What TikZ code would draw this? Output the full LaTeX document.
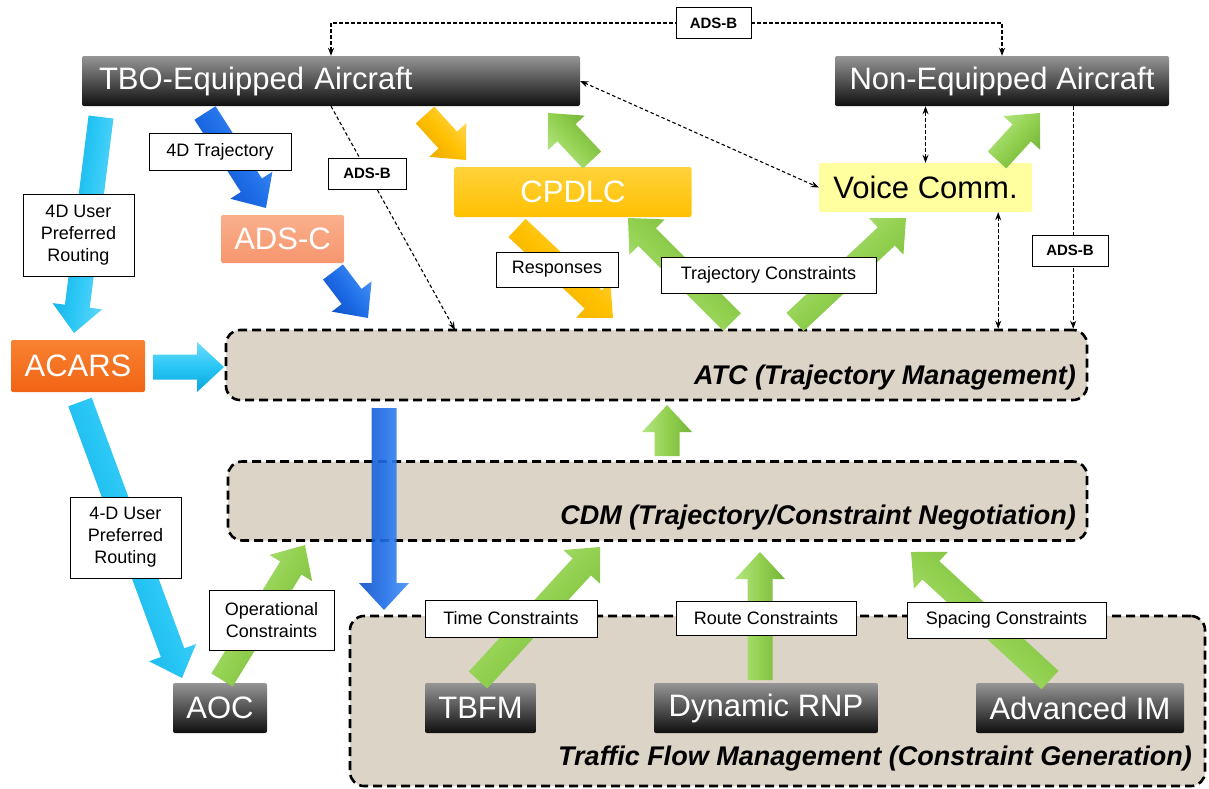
\documentclass[tikz,border=0pt]{standalone}
\usepackage{fontspec}
\setmainfont{Liberation Sans}
\usetikzlibrary{calc,arrows.meta}

\definecolor{beige}{RGB}{221,212,200}
\definecolor{darkT}{RGB}{150,150,150}
\definecolor{darkB}{RGB}{15,15,15}
\definecolor{cpdlcY}{RGB}{255,192,0}
\definecolor{cpdlcL}{RGB}{255,210,60}
\definecolor{voiceY}{RGB}{255,255,160}
\definecolor{adscO}{RGB}{246,150,110}
\definecolor{adscL}{RGB}{250,175,140}
\definecolor{acarsO}{RGB}{240,100,20}
\definecolor{acarsL}{RGB}{248,130,50}
\definecolor{cyanL}{RGB}{110,220,252}
\definecolor{cyanM}{RGB}{40,198,245}
\definecolor{cyanD}{RGB}{10,165,220}
\definecolor{blueL}{RGB}{70,145,245}
\definecolor{blueM}{RGB}{30,110,232}
\definecolor{blueD}{RGB}{15,80,200}
\definecolor{goldL}{RGB}{255,215,80}
\definecolor{goldM}{RGB}{255,192,0}
\definecolor{goldD}{RGB}{235,170,0}
\definecolor{greenL}{RGB}{180,230,130}
\definecolor{greenM}{RGB}{146,208,80}
\definecolor{greenD}{RGB}{115,180,55}

% fat block arrow between two named coordinates
\newcommand\fatarrow[3][]{%
  \pgfpointdiff{\pgfpointanchor{#2}{center}}{\pgfpointanchor{#3}{center}}%
  \pgfgetlastxy{\fdx}{\fdy}%
  \pgfmathsetmacro\flen{veclen(\fdx,\fdy)}%
  \pgfmathsetmacro\fang{atan2(\fdy,\fdx)}%
  \pgfmathsetmacro\fneck{\flen-27}%
  \begin{scope}[shift={(#2)},rotate=\fang]
    \path[#1,shading angle=\fang] (0pt,-12.5pt) -- (\fneck pt,-12.5pt) -- (\fneck pt,-25pt) -- (\flen pt,0pt)
      -- (\fneck pt,25pt) -- (\fneck pt,12.5pt) -- (0pt,12.5pt) -- cycle;
  \end{scope}}

\begin{document}
\begin{tikzpicture}[x=1pt,y=-1pt,
  >={Stealth[length=8pt,width=6pt]},
  darkbox/.style={rectangle, rounded corners=2pt, top color=darkT, bottom color=darkB,
    text=white, font=\fontsize{31}{36}\selectfont, inner sep=0pt},
  colbox/.style={rectangle, rounded corners=2pt, inner sep=0pt,
    font=\fontsize{31}{36}\selectfont},
  region/.style={rectangle, rounded corners=14pt, draw=black, line width=2.6pt,
    dash pattern=on 9pt off 5pt, fill=beige},
  rtext/.style={font=\fontsize{27}{32}\selectfont\bfseries\itshape, inner sep=0pt},
  lbl/.style={rectangle, draw=black, line width=0.9pt, fill=white, align=center,
    inner sep=0pt, font=\fontsize{18}{22}\selectfont},
  lblB/.style={lbl, font=\fontsize{15}{18}\selectfont\bfseries},
  dconn/.style={draw=black, line width=1.1pt, dash pattern=on 3.5pt off 2.5pt},
  fcyan/.style={top color=cyanL, bottom color=cyanD, middle color=cyanM},
  fblue/.style={top color=blueL, bottom color=blueD, middle color=blueM},
  fgold/.style={top color=goldL, bottom color=goldD, middle color=goldM},
  fgreen/.style={top color=greenL, bottom color=greenD, middle color=greenM},
]
\useasboundingbox (0,0) rectangle (1209,788);

% regions
\node[region, minimum width=861pt, minimum height=70pt] (atc) at (656.5,365) {};
\node[region, minimum width=859pt, minimum height=79pt] (cdm) at (657.5,501) {};
\node[region, minimum width=855pt, minimum height=170pt] (tfm) at (777.5,701) {};
\node[rtext, anchor=base east] (atct) at (1076,384) {ATC (Trajectory Management)};
\node[rtext, anchor=base east] (cdmt) at (1076,524) {CDM (Trajectory/Constraint Negotiation)};
\node[rtext, anchor=base east] (tfmt) at (1192,765) {Traffic Flow Management (Constraint Generation)};

% boxes
\node[darkbox, minimum width=498pt, minimum height=50pt, text width=464pt, align=left] (tbo) at (331,81) {TBO-Equipped Aircraft};
\node[darkbox, minimum width=334pt, minimum height=50pt] (noneq) at (1002,81) {Non-Equipped Aircraft};
\node[colbox, top color=cpdlcL, bottom color=cpdlcY, text=white, minimum width=237pt, minimum height=50pt] (cpdlc) at (573,192) {CPDLC};
\node[colbox, fill=voiceY, text=black, minimum width=213pt, minimum height=49pt] (voice) at (925.5,187.5) {Voice Comm.};
\node[colbox, top color=adscL, bottom color=adscO, text=white, minimum width=123pt, minimum height=48pt] (adsc) at (282.5,239) {ADS-C};
\node[colbox, top color=acarsL, bottom color=acarsO, text=white, minimum width=134pt, minimum height=52pt] (acars) at (78,366) {ACARS};
\node[darkbox, minimum width=94pt, minimum height=50pt] (aoc) at (220,708) {AOC};
\node[darkbox, minimum width=111pt, minimum height=50pt] (tbfm) at (480.5,708) {TBFM};
\node[darkbox, minimum width=224pt, minimum height=50pt] (rnp) at (766,708) {Dynamic RNP};
\node[darkbox, minimum width=208pt, minimum height=50pt] (advim) at (1080,708) {Advanced IM};

% dashed connectors
\coordinate (adsbIn) at (455,330);
\draw[dconn,->] (tbo.south) -- (adsbIn);
\draw[dconn,<->] (tbo.east) -- (voice.west);
\draw[dconn,<->] (voice.north) -- (voice.north |- noneq.south);
\draw[dconn,<->] ([xshift=-34pt]voice.south east) -- ([xshift=-34pt]voice.south east |- atc.north);
\draw[dconn,->] ([xshift=-96pt]noneq.south east) -- ([xshift=-96pt]noneq.south east |- atc.north);

% fat arrows
\coordinate (a1s) at (101,117);   \coordinate (a1e) at (74,333);
\coordinate (a2s) at (205,113);   \coordinate (a2e) at (266,208);
\coordinate (a3s) at (333,272);   \coordinate (a3e) at (368,318);
\coordinate (a4s) at (425,115);   \coordinate (a4e) at (466,160);
\coordinate (a5s) at (592,160);   \coordinate (a5e) at (548,113);
\coordinate (a6s) at (517,228);   \coordinate (a6e) at (613,318);
\coordinate (a7s) at (732,322);   \coordinate (a7e) at (628,218);
\coordinate (a8s) at (795,322);   \coordinate (a8e) at (906,218);
\coordinate (a9s) at (997,160);   \coordinate (a9e) at (1040,113);
\coordinate (a10s) at (153,367);  \coordinate (a10e) at (224,367);
\coordinate (a11s) at (80,402);   \coordinate (a11e) at (182,678);
\coordinate (a12s) at (222,680);  \coordinate (a12e) at (305,545);
\coordinate (a13s) at (384,408);  \coordinate (a13e) at (384,610);
\coordinate (a14s) at (667,456);  \coordinate (a14e) at (667,405);
\coordinate (a15s) at (478,680);  \coordinate (a15e) at (600,547);
\coordinate (a16s) at (760,680);  \coordinate (a16e) at (760,552);
\coordinate (a17s) at (1050,680); \coordinate (a17e) at (911,552);

\fatarrow[fcyan]{a1s}{a1e}
\fatarrow[fblue]{a2s}{a2e}
\fatarrow[fblue]{a3s}{a3e}
\fatarrow[fgold]{a4s}{a4e}
\fatarrow[fgreen]{a5s}{a5e}
\fatarrow[fgold]{a6s}{a6e}
\fatarrow[fgreen]{a7s}{a7e}
\fatarrow[fgreen]{a8s}{a8e}
\fatarrow[fgreen]{a9s}{a9e}
\fatarrow[fcyan]{a10s}{a10e}
\fatarrow[fcyan]{a11s}{a11e}
\fatarrow[fgreen]{a12s}{a12e}
\fatarrow[fblue,opacity=0.9]{a13s}{a13e}
\fatarrow[fgreen]{a14s}{a14e}
\fatarrow[fgreen]{a15s}{a15e}
\fatarrow[fgreen]{a16s}{a16e}
\fatarrow[fgreen]{a17s}{a17e}

% labels
\node[lblB, minimum width=75pt, minimum height=31pt] (adsbtop) at (713.5,23) {ADS-B};
\node[lblB, minimum width=78pt, minimum height=31pt] (adsbmid) at (367,173.5) {ADS-B};
\node[lblB, minimum width=76pt, minimum height=31pt] (adsbright) at (1070,250.5) {ADS-B};
\node[lbl, minimum width=142pt, minimum height=37pt] (traj4d) at (220,151.5) {4D Trajectory};
\node[lbl, minimum width=111pt, minimum height=82pt] (user4d) at (78.5,235) {4D User\\Preferred\\Routing};
\node[lbl, minimum width=122pt, minimum height=35pt] (resp) at (557,269.5) {Responses};
\node[lbl, minimum width=215pt, minimum height=36pt] (trajc) at (768.5,275) {Trajectory Constraints};
\node[lbl, minimum width=111pt, minimum height=81pt] (user4db) at (125.5,537.5) {4-D User\\Preferred\\Routing};
\node[lbl, minimum width=125pt, minimum height=60pt] (opc) at (271.5,620) {Operational\\Constraints};
\node[lbl, minimum width=172pt, minimum height=37pt] (timec) at (511,618.5) {Time Constraints};
\node[lbl, minimum width=180pt, minimum height=34pt] (routec) at (766,618) {Route Constraints};
\node[lbl, minimum width=199pt, minimum height=36pt] (spacec) at (1006.5,620) {Spacing Constraints};

\draw[dconn,<-] (tbo.north) |- (adsbtop.west);
\draw[dconn,->] (adsbtop.east) -| (noneq.north);
\end{tikzpicture}
\end{document}
